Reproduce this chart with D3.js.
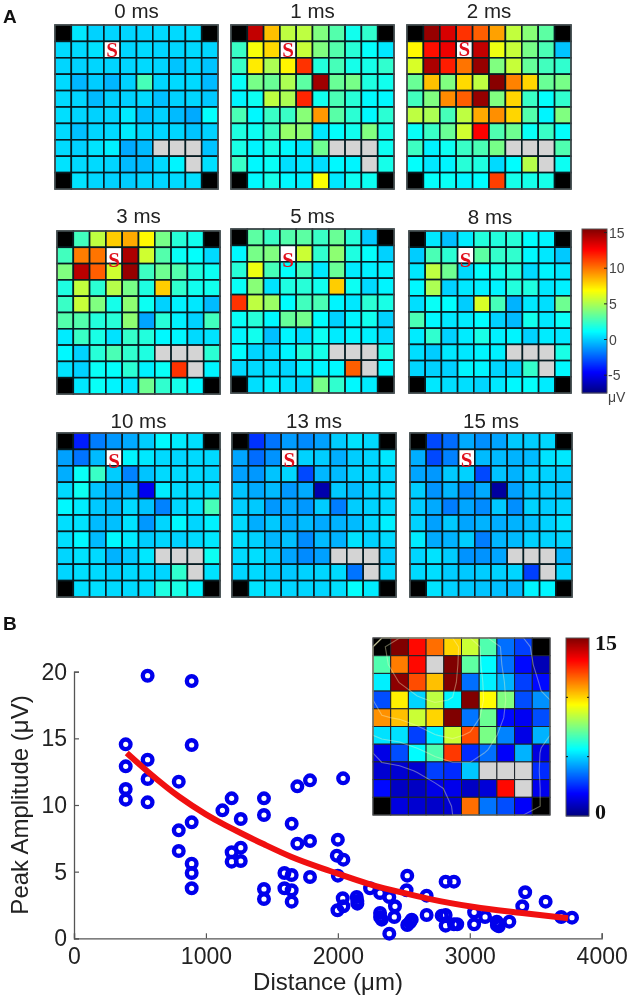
<!DOCTYPE html>
<html><head><meta charset="utf-8">
<script src="https://cdn.jsdelivr.net/npm/d3@7"></script>
<style>html,body{margin:0;padding:0;background:#fff}svg{display:block;filter:blur(.45px)}text{font-family:"Liberation Sans",Arial,sans-serif}</style>
</head><body><svg id="c" width="633" height="1003"></svg>
<script>
// ---- Panel A: amplitudes (µV), rows top→bottom, null = corner / dead / stimulation electrode
const times=["0 ms","1 ms","2 ms","3 ms","5 ms","8 ms","10 ms","13 ms","15 ms"];
const values0=[[null,.6,.1,.2,.2,.2,.3,.3,.4,null],[.3,.3,.5,null,.2,.3,.2,.2,.3,.2],[.2,.1,.2,.2,.2,.3,.2,-.2,.2,-.2],[.3,-.5,0,-.5,.1,2.7,.2,.3,.3,-.4],[.3,.2,-.4,.1,.1,.3,-.3,.1,.2,-.1],[.4,.2,.1,.2,.7,-.3,.1,-.4,-.8,1.2],[.3,-.3,.2,.3,.7,.3,.2,.2,-.2,.1],[.3,.1,.5,.8,-.8,-.4,null,null,null,-.2],[.5,.3,.3,.2,-.4,-.4,.3,.9,null,.4],[null,.5,.2,.1,0,.2,.2,.3,.4,null]];
const values1=[[null,14,8.3,5.4,5.4,4,3,1.5,2.2,null],[2.4,6.7,7.7,null,5.6,4,3,2,1.2,.6],[2.4,7.3,5,7.1,11.5,1.9,2.7,1.6,1.6,2.2],[1.3,3.8,3.5,5,3.2,14.8,3.5,3.8,1.8,1.5],[.9,1.4,5.4,5,11.8,1.5,2.8,2,1,1],[2.8,1,2.4,2.4,4.2,9.2,3.1,2.1,1,2.1],[1.8,1.4,2.4,4.5,4.3,.6,1.2,1.5,4,1.6],[1.7,.9,1.7,1,.6,3.6,null,null,null,1.4],[2.4,1,1.3,.4,.6,.4,1,.9,null,1.6],[null,1,1.6,1,.8,6.8,.6,1.4,1.4,null]];
const values2=[[null,15,13.5,11.5,10.5,9,5.5,4.2,3.2,null],[7,12.3,13,null,14,6.5,5.6,3.8,2.8,-.2],[6,14.5,12,10,15,4,5.6,3.4,2.6,2.2],[3.5,8.3,4,7.7,5.4,15.3,9.7,7.8,3.5,3.8],[2.6,4,9.5,10.5,15,4,7.8,2.4,1.2,2.2],[5.4,5,2.7,5.4,8.8,9.4,7.8,3,.9,4],[1.3,2.4,3.5,5.8,12.7,2.9,3.6,1.3,2.4,1.2],[2.5,.8,1.4,2.4,2.8,3.8,null,null,null,2.9],[1.2,.6,.9,2,1.8,.3,1.1,5.2,null,1.4],[null,1.2,1.3,.9,1.1,11.2,1.6,1.6,1.6,null]];
const values3=[[null,2.6,5.4,8,8.8,7,3.8,2,1.5,null],[2.6,9.8,10,null,14.5,5.8,3,1.3,1.2,.3],[4,14.2,10.5,5.8,15,2.5,3.6,3,1.8,1.4],[1.8,5.5,2.1,5.2,3.8,1.8,8,2.2,1.5,1.5],[2.4,5.6,4,1.6,4.3,1.4,.1,.8,.6,-.4],[3,3,1.9,2,4.3,-.9,2,.8,.1,2.6],[.7,2.4,1.7,.5,2.3,1.9,1,.9,.3,.5],[1,.1,2,2.8,2.2,1.8,null,null,null,2.1],[.5,.1,1.3,1.2,2.1,.8,1.3,11.5,null,.9],[null,.6,1.3,.9,.6,3.6,2.2,1.6,1,null]];
const values5=[[null,3.2,2.4,3,3.2,2.4,3.5,2,-.1,null],[1,3.8,4,null,5.7,2.2,4.3,1.8,1.2,.1],[2,6.5,2.7,1.2,2.6,.6,3.5,.7,.8,.8],[1.3,4.2,.5,1.8,2,1.5,8,1.4,.3,.9],[11.5,5.4,4.6,1.1,2.6,2.8,.9,.6,2.1,1.7],[1.3,2,1,3.4,3.7,1.1,.1,.9,1.5,.1],[.9,1.5,-.3,.9,.4,1.4,.7,.9,.8,.3],[1.1,.2,.3,.9,1.9,1.6,null,null,null,1.7],[.3,.3,.4,.2,.8,.9,1,10.5,null,1],[null,.4,.8,.5,.2,3.8,2.2,1,.7,null]];
const values8=[[null,.6,-.3,.7,1.9,1.9,2,1.1,.9,null],[0,2.8,2.1,null,3.2,2.3,2.2,1,.6,-.1],[.6,5.4,3.6,.3,1.2,1.6,1.9,.3,.9,.6],[1,5,.1,.6,.8,.9,1.9,1.8,.6,.8],[.4,1.3,1.1,0,6,2.7,-.6,.6,.4,3.6],[2.8,1,.6,.7,1.1,.1,-.4,1.5,.6,1.3],[.7,2.2,.1,.7,1.7,.8,.9,.1,.7,.6],[.4,0,.6,.6,.9,.8,null,null,null,1.7],[.2,.1,.1,.9,.9,.2,.2,2.3,null,1],[null,.6,.4,.4,.2,.6,1,1.2,.7,null]];
const values10=[[null,-4,-1.8,-1.2,-.8,0,1,.7,.4,null],[-1,-2,-.4,null,.9,.6,.3,.2,.3,.3],[-.7,1.3,2.4,0,-1.7,-.2,.3,.3,.3,.2],[.3,1.4,-.2,-.8,-.6,-5,.7,.3,.3,.4],[1,.7,-.1,-.4,.3,-.2,-1.7,.2,.5,2.7],[.4,.5,-.4,-.3,.5,-1.2,.2,1,.2,.8],[.4,1,-.4,1,.7,0,.2,.1,.3,.6],[.2,.5,.3,-.6,-.1,.6,null,null,null,1.4],[.2,.4,.3,.1,.3,.3,.2,2.2,null,.5],[null,.4,.4,.3,.3,.4,1.8,1.7,.9,null]];
const values13=[[null,-3.5,-2,-1.1,-1.5,-1,0,.5,.3,null],[-.9,-2.2,-1.3,null,.1,0,-.7,0,.2,.6],[-1,-1.2,-.2,.2,-3,-.5,-.4,.1,.2,.2],[-.2,-.8,-.4,-1.2,-.8,-6.5,-.1,-.4,.1,.3],[0,-.1,-1.2,-.8,-1.2,0,-1.8,0,.1,.3],[.3,-.7,-.1,-.8,-.4,-.8,-.6,-.4,.2,.8],[.4,.1,-.5,-.3,-1.5,-.4,-.6,.5,.1,.3],[.3,.4,0,-.9,-1.5,-1,null,null,null,0],[.2,.3,0,-.1,.1,.2,.3,-2,null,.3],[null,.5,.4,.2,.2,.2,.4,1.2,.7,null]];
const values15=[[null,-3,-2.2,-.8,-1.4,-.9,-.1,0,.2,null],[-.7,-3,-1.7,null,-.4,-.4,-.6,-.4,.5,.6],[-.9,-1.2,-.1,.1,-3,-.2,-.6,.1,.1,0],[0,-1.3,-.5,-1.5,-.8,-6.8,-1,-.2,-.1,-.3],[0,-.8,-1.8,-.9,-1.5,-.1,-1.4,.1,0,.2],[.1,-1,-.1,-.9,-.6,-.7,-.6,-.3,.1,.5],[.7,-.8,-.6,0,-1.8,-.5,-.4,.1,.1,.2],[.2,.5,0,-1.3,-1.3,-.9,null,null,null,-.5],[.3,.4,0,-.1,0,.1,.2,-3.2,null,.2],[null,.5,.1,-.1,-.2,-.3,-.4,.9,.9,null]];
const allPanels=[values0,values1,values2,values3,values5,values8,values10,values13,values15];
const cornerCells=[[0,0],[0,9],[9,0],[9,9]];
const deadCells=[[7,6],[7,7],[7,8],[8,8]];
const stimCell=[1,3];
const colorbarTicksA=[15,10,5,0,-5];
// ---- Panel B inset
const insetValues=[[null,15,13,11.5,10,8.6,6.8,3.5,2.8,null],[6.8,11.3,13,null,15,7,5.6,3.5,2,.8],[5.4,14.8,12,10.3,15,3.5,5.4,4.5,2.8,2],[3,9.6,5,8.4,5.5,15,9.4,7.5,3,4],[11,10.3,8.6,10,15,3.6,7.2,2,1.7,3],[5.2,5.2,2.8,5.4,8.6,12,7.4,3.8,1.5,4.5],[1.5,3,5.6,6.8,12.3,2.5,3.5,1.8,4.5,1.4],[1.2,1.2,1.2,2.8,2.5,4.8,null,null,null,2.5],[2,1,1,1.5,1.6,1,1.3,13,null,1.6],[null,1.4,1.2,1.1,1.2,11.5,3.6,3,1.8,null]];
const insetDead=[[1,3],[7,6],[7,7],[7,8],[8,8]];
const contourLevels=[3,5,7,9,11];
// ---- Panel B scatter
const distance=[392,392,392,392,558,558,558,558,892,892,794,794,794,892,892,892,892,1125,1195,1264,1264,1195,1195,1264,1440,1440,1440,1440,1595,1650,1595,1650,1650,1650,1693,1789,1693,1789,1789,2040,2000,1992,2042,2000,2037,1997,2042,2143,2148,2148,2244,2320,2390,2433,2320,2320,2333,2428,2390,2526,2521,2673,2673,2560,2547,2526,2817,2880,2817,2787,2817,2880,2905,3033,3033,3116,3205,3220,3205,3300,3398,3420,3575,3693,3775];
const amplitude=[14.55,12.9,11.2,10.4,19.7,13.4,11.95,10.2,19.3,14.5,11.75,8.1,6.55,8.7,5.6,4.9,3.75,9.6,10.5,8.95,6.8,6.45,5.75,5.8,10.5,9.25,3.7,2.95,4.9,4.75,3.75,3.6,2.75,8.6,11.4,11.85,7.1,7.3,4.6,12,7.4,6.2,5.9,4.7,3,2.1,2.4,3.1,2.8,2.6,3.75,3.4,3.1,2.4,1.9,1.6,1.4,1.6,.35,4.7,3.6,3.2,1.75,1.4,1.2,1,4.25,4.25,1.75,1.7,.95,1.05,1.05,1.95,1.05,1.6,1.25,.9,1,1.25,2.4,3.45,2.75,1.6,1.55];
const fitX=[400,560,800,1000,1125,1264,1440,1650,1941,2244,2521,2673,3033,3398,3745];
const fitY=[13.9,12.5,10.6,9.3,8.6,7.9,7.05,6.1,5.05,4.05,3.35,3,2.35,1.9,1.5];
const xTicks=[0,1000,2000,3000,4000];
const yTicks=[0,5,10,15,20];

// ---- layout
const boxes=[[55,25,163,164],[231,25,163,164],[407,25,164,164],[57,231,163,163],[231,229,163,164],[409,231,162,162],[57,433,163,164],[232,433,164,164],[410,433,162,164]];
const titleBase=[18,18,18,223,223,224,428,428,428];
const sBase=[57,57,56,267,267,267,468,467,467];
const svg=d3.select("#c");
const jet=t=>{const f=k=>Math.round(255*Math.max(0,Math.min(1,1.5-Math.abs(4*t-k))));return `rgb(${f(3)},${f(2)},${f(1)})`;};
const same=(list,r,c)=>list.some(d=>d[0]===r&&d[1]===c);
const idx=d3.range(10);

function drawGrid(g,box,vals,color,dead,stim,lineW,lineCol){
  const x=d3.scaleBand().domain(idx).range([box[0],box[0]+box[2]]);
  const y=d3.scaleBand().domain(idx).range([box[1],box[1]+box[3]]);
  const cells=idx.flatMap(r=>idx.map(c=>({r,c,v:vals[r][c]})));
  g.selectAll("rect.cell").data(cells).join("rect").attr("class","cell")
   .attr("x",d=>x(d.c)).attr("y",d=>y(d.r)).attr("width",x.bandwidth()).attr("height",y.bandwidth())
   .attr("fill",d=>same(cornerCells,d.r,d.c)?"#000":same(dead,d.r,d.c)?"#d4d4d4":(stim&&same([stim],d.r,d.c))?"#fff":color(d.v))
   .attr("stroke",lineCol).attr("stroke-width",lineW);
  return {x,y};
}
// heatmaps
const scaleA=d3.scaleLinear().domain([-7.5,15.5]).range([0,1]).clamp(true);
times.forEach((t,i)=>{
  const b=boxes[i],g=svg.append("g");
  const {x,y}=drawGrid(g,b,allPanels[i],v=>jet(scaleA(v)),deadCells,stimCell,1.6,"#061c22");
  g.append("rect").attr("x",b[0]).attr("y",b[1]).attr("width",b[2]).attr("height",b[3]).attr("fill","none").attr("stroke","#666").attr("stroke-width",1);
  g.append("text").attr("x",b[0]+b[2]/2).attr("y",titleBase[i]).attr("text-anchor","middle").attr("font-size",20.5).attr("fill","#222").text(t);
  g.append("text").attr("x",x(stimCell[1])+x.bandwidth()/2).attr("y",sBase[i])
   .attr("text-anchor","middle").attr("font-size",21).attr("font-weight","bold").attr("fill","#e0101c").style("font-family","'Liberation Serif',serif").text("S");
});
// colourbars
function colorbar(x0,y0,w,h,dom){
  const yS=d3.scaleLinear().domain(dom).range([y0+h,y0]);
  const steps=d3.range(dom[0],dom[1],(dom[1]-dom[0])/h);
  svg.append("g").selectAll("rect").data(steps).join("rect")
   .attr("x",x0).attr("width",w).attr("y",d=>yS(d)-1).attr("height",1.4)
   .attr("fill",d=>jet((d-dom[0])/(dom[1]-dom[0])));
  svg.append("rect").attr("x",x0).attr("y",y0).attr("width",w).attr("height",h).attr("fill","none").attr("stroke","#555");
  return yS;
}
const cbA=colorbar(582,229,25,164,[-7.5,15.5]);
const cbAG=svg.append("g");
cbAG.selectAll("line").data(colorbarTicksA).join("line").attr("x1",604).attr("x2",607).attr("y1",d=>cbA(d)).attr("y2",d=>cbA(d)).attr("stroke","#222");
cbAG.selectAll("text").data(colorbarTicksA).join("text").attr("x",d=>d<0?608:609).attr("y",d=>cbA(d)+5).attr("font-size",14).attr("fill","#444").text(d=>d<0?"-"+(-d):d);
svg.append("text").attr("x",608).attr("y",402).attr("font-size",14).attr("fill","#444").text("μV");

// panel letters
svg.append("text").attr("x",3).attr("y",23).attr("font-size",19).attr("font-weight","bold").attr("fill","#111").text("A");
svg.append("text").attr("x",3).attr("y",630).attr("font-size",19).attr("font-weight","bold").attr("fill","#111").text("B");

// scatter
const X=d3.scaleLinear().domain([0,4000]).range([74,601.7]);
const Y=d3.scaleLinear().domain([0,20]).range([938.3,671.7]);
const gx=svg.append("g").attr("transform","translate(0,938.3)").call(d3.axisBottom(X).tickValues(xTicks).tickSize(-5).tickPadding(9).tickFormat(d3.format("d")));
const gy=svg.append("g").attr("transform","translate(74,0)").call(d3.axisLeft(Y).tickValues(yTicks).tickSize(-5).tickPadding(7));
[gx,gy].forEach(a=>{a.selectAll("path").attr("stroke","#555").attr("stroke-width",1.3);a.selectAll("line").attr("stroke","#555").attr("stroke-width",1.2);a.selectAll("text").attr("font-size",23).attr("fill","#222").style("font-family","'Liberation Sans',Arial,sans-serif");});
svg.append("text").attr("x",328).attr("y",990).attr("text-anchor","middle").attr("font-size",24).attr("fill","#222").text("Distance (μm)");
svg.append("text").attr("transform","translate(28,805) rotate(-90)").attr("text-anchor","middle").attr("font-size",24).attr("fill","#222").text("Peak Amplitude (μV)");
svg.append("g").selectAll("circle").data(distance.map((d,i)=>[d,amplitude[i]])).join("circle")
 .attr("cx",d=>X(d[0])).attr("cy",d=>Y(d[1])).attr("r",4.8).attr("fill","none").attr("stroke","#0000ec").attr("stroke-width",4.4);
svg.append("path").attr("d",d3.line().x(d=>X(d[0])).y(d=>Y(d[1])).curve(d3.curveMonotoneX)(fitX.map((d,i)=>[d,fitY[i]])))
 .attr("fill","none").attr("stroke","#f01010").attr("stroke-width",6);

// inset heatmap
const ib=[373,638,177,177];
const scaleI=d3.scaleLinear().domain([0,15]).range([0,1]).clamp(true);
const ig=svg.append("g");
drawGrid(ig,ib,insetValues,v=>jet(scaleI(v)),insetDead,null,1,"#1c2228");
// contours computed from the smoothed inset grid
const flat={data:insetValues.flat().map(v=>v==null?3:v),width:10,height:10};
d3.blur2(flat,.8);
const contours=d3.contours().size([10,10]).thresholds(contourLevels)(flat.data);
const ct=d3.geoTransform({point(px,py){this.stream.point(ib[0]+px*ib[2]/10,ib[1]+py*ib[3]/10);}});
ig.append("g").selectAll("path").data(contours).join("path").attr("d",d3.geoPath(ct)).attr("fill","none").attr("stroke","#f4f4c0").attr("stroke-opacity",.4).attr("stroke-width",1.1);
ig.append("rect").attr("x",ib[0]).attr("y",ib[1]).attr("width",ib[2]).attr("height",ib[3]).attr("fill","none").attr("stroke","#555");
const cbI=colorbar(566,638,23,178,[0,15]);
svg.append("g").selectAll("line").data([5,10]).join("line").attr("x1",566).attr("x2",589).attr("y1",d=>cbI(d)).attr("y2",d=>cbI(d)).attr("stroke","#111").attr("stroke-dasharray","2 19");
[[595,650,"15"],[595,819,"0"]].forEach(d=>svg.append("text").attr("x",d[0]).attr("y",d[1]).attr("font-size",22).attr("font-weight","bold").attr("fill","#111").style("font-family","'Liberation Serif',serif").text(d[2]));
</script></body></html>
